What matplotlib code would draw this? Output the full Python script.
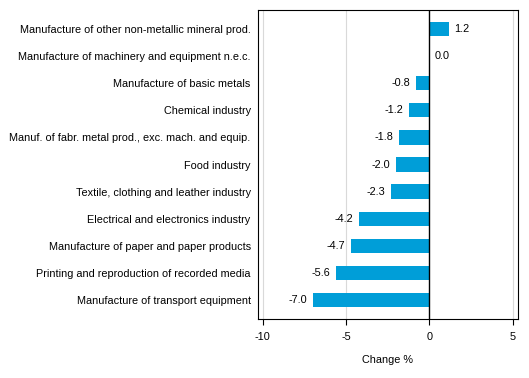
import numpy as np
import matplotlib
matplotlib.use('Agg')
import matplotlib.pyplot as plt

plt.rcParams['font.family'] = ['Liberation Sans', 'DejaVu Sans']

industries = ['Manufacture of other non-metallic mineral prod.',
              'Manufacture of machinery and equipment n.e.c.',
              'Manufacture of basic metals',
              'Chemical industry',
              'Manuf. of fabr. metal prod., exc. mach. and equip.',
              'Food industry',
              'Textile, clothing and leather industry',
              'Electrical and electronics industry',
              'Manufacture of paper and paper products',
              'Printing and reproduction of recorded media',
              'Manufacture of transport equipment']
change = [1.2, 0.0, -0.8, -1.2, -1.8, -2.0, -2.3, -4.2, -4.7, -5.6, -7.0]
xticks = [-10, -5, 0, 5]

fs = 7.8
fig = plt.figure(figsize=(5.29, 3.78), dpi=100)
ax = fig.add_axes([0.487, 0.156, 0.492, 0.8175])

y_pos = np.arange(len(industries))[::-1]
ax.barh(y_pos, change, height=0.53, color='#009ed8', zorder=3)

for y, v in zip(y_pos, change):
    if v >= 0:
        ax.text(v + 0.3, y, '%.1f' % v, ha='left', va='center', fontsize=fs)
    else:
        ax.text(v - 0.35, y, '%.1f' % v, ha='right', va='center', fontsize=fs)

ax.axvline(0, color='black', lw=1, zorder=4)
for t in [-10, -5, 5]:
    ax.axvline(t, color='#d9d9d9', lw=0.8, zorder=1)

ax.set_xlim(-10.3, 5.3)
ax.set_ylim(-0.7, 10.7)
ax.set_xticks(xticks)
ax.set_xticklabels([str(t) for t in xticks], fontsize=fs)
ax.set_yticks(y_pos)
ax.set_yticklabels(industries, fontsize=fs)
ax.tick_params(axis='y', length=0, pad=5)
ax.tick_params(axis='x', length=4, width=0.8, pad=5)
ax.set_xlabel('Change %', fontsize=fs, labelpad=10)
for s in ax.spines.values():
    s.set_linewidth(0.8)

fig.savefig('out.png', dpi=100)
